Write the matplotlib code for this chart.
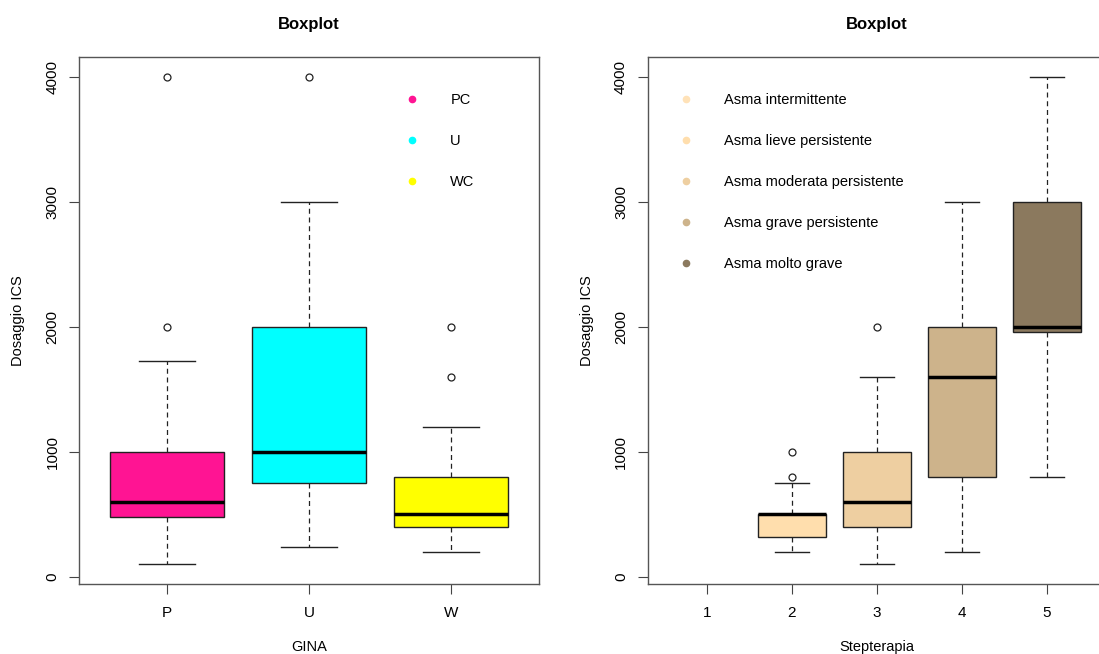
import matplotlib
matplotlib.use("Agg")
import matplotlib.pyplot as plt
from matplotlib.lines import Line2D

plt.rcParams['font.family'] = ['Liberation Sans', 'DejaVu Sans']

# GINA groups: five-number summaries (ICS dose) and outliers
gina_labels = ['P', 'U', 'W']
gina_whislo = [100, 240, 200]
gina_q1 = [480, 750, 400]
gina_med = [600, 1000, 500]
gina_q3 = [1000, 2000, 800]
gina_whishi = [1725, 3000, 1200]
gina_fliers = [[2000, 4000], [4000], [1600, 2000]]
gina_colors = ['#FF1493', '#00FFFF', '#FFFF00']
gina_legend = ['PC', 'U', 'WC']

# step therapy levels 1..5 (level 1 has no data)
step_labels = ['1', '2', '3', '4', '5']
step_pos = [2, 3, 4, 5]
step_whislo = [200, 100, 200, 800]
step_q1 = [320, 400, 800, 1960]
step_med = [500, 600, 1600, 2000]
step_q3 = [500, 1000, 2000, 3000]
step_whishi = [750, 1600, 3000, 4000]
step_fliers = [[800, 1000], [2000], [], []]
step_colors = ['#FFDEAD', '#EECFA1', '#CDB38B', '#8B795E']
step_legend = ['Asma intermittente', 'Asma lieve persistente',
               'Asma moderata persistente', 'Asma grave persistente',
               'Asma molto grave']
step_legend_colors = ['#FFE2B8', '#FFDEAD', '#EECFA1', '#CDB38B', '#8B795E']


def make_stats(lo, q1, med, q3, hi, fl):
    return [dict(whislo=a, q1=b, med=c, q3=d, whishi=e, fliers=f)
            for a, b, c, d, e, f in zip(lo, q1, med, q3, hi, fl)]


def draw_box(ax, stats, positions, colors):
    res = ax.bxp(stats, positions=positions, widths=0.8, patch_artist=True,
                 boxprops=dict(edgecolor='#222222', linewidth=1.0),
                 whiskerprops=dict(color='#222222', linestyle=(0, (4, 3)), linewidth=0.9),
                 capprops=dict(color='#222222', linewidth=1.0),
                 medianprops=dict(color='black', linewidth=2.5),
                 flierprops=dict(marker='o', markerfacecolor='none',
                                 markeredgecolor='#222222', markersize=5,
                                 markeredgewidth=0.9),
                 capwidths=0.4)
    for patch, c in zip(res['boxes'], colors):
        patch.set_facecolor(c)


def style_axes(ax, xlabel):
    ax.set_ylim(-56, 4156)
    ax.set_yticks([0, 1000, 2000, 3000, 4000])
    ax.tick_params(axis='y', labelrotation=90, length=7, pad=7, labelsize=11,
                   color='#444444')
    ax.tick_params(axis='x', length=7, pad=9, labelsize=11, color='#444444')
    for lab in ax.get_yticklabels():
        lab.set_va('center')
    for s in ax.spines.values():
        s.set_color('#555555')
        s.set_linewidth(1.0)
    ax.set_title('Boxplot', fontsize=12, fontweight='bold', pad=20)
    ax.set_ylabel('Dosaggio ICS', fontsize=10.5)
    ax.set_xlabel(xlabel, fontsize=10.5)
    ax.yaxis.set_label_coords(-0.117, 0.5)
    ax.xaxis.set_label_coords(0.5, -0.106)


def add_legend(ax, labels, colors, anchor):
    handles = [Line2D([], [], linestyle='none', marker='o', markersize=4.5,
                      markerfacecolor=c, markeredgecolor=c) for c in colors]
    ax.legend(handles, labels, loc='upper left', bbox_to_anchor=anchor,
              frameon=False, fontsize=10.5, borderpad=0, borderaxespad=0,
              handlelength=1.0, handletextpad=2.1, labelspacing=1.85)


fig = plt.figure(figsize=(10.99, 6.54), dpi=100)
W, H = 1099, 654
ax1 = fig.add_axes([79 / W, 70 / H, 460 / W, 527 / H])
ax2 = fig.add_axes([647.5 / W, 70 / H, 459 / W, 527 / H])

draw_box(ax1, make_stats(gina_whislo, gina_q1, gina_med, gina_q3, gina_whishi, gina_fliers),
         [1, 2, 3], gina_colors)
ax1.set_xlim(0.38, 3.62)
ax1.set_xticks([1, 2, 3])
ax1.set_xticklabels(gina_labels)
style_axes(ax1, 'GINA')
add_legend(ax1, gina_legend, gina_colors, (0.709, 0.932))

draw_box(ax2, make_stats(step_whislo, step_q1, step_med, step_q3, step_whishi, step_fliers),
         step_pos, step_colors)
ax2.set_xlim(0.3, 5.7)
ax2.set_xticks([1, 2, 3, 4, 5])
ax2.set_xticklabels(step_labels)
style_axes(ax2, 'Stepterapia')
add_legend(ax2, step_legend, step_legend_colors, (0.0686, 0.932))

fig.savefig('out.png', dpi=100)
